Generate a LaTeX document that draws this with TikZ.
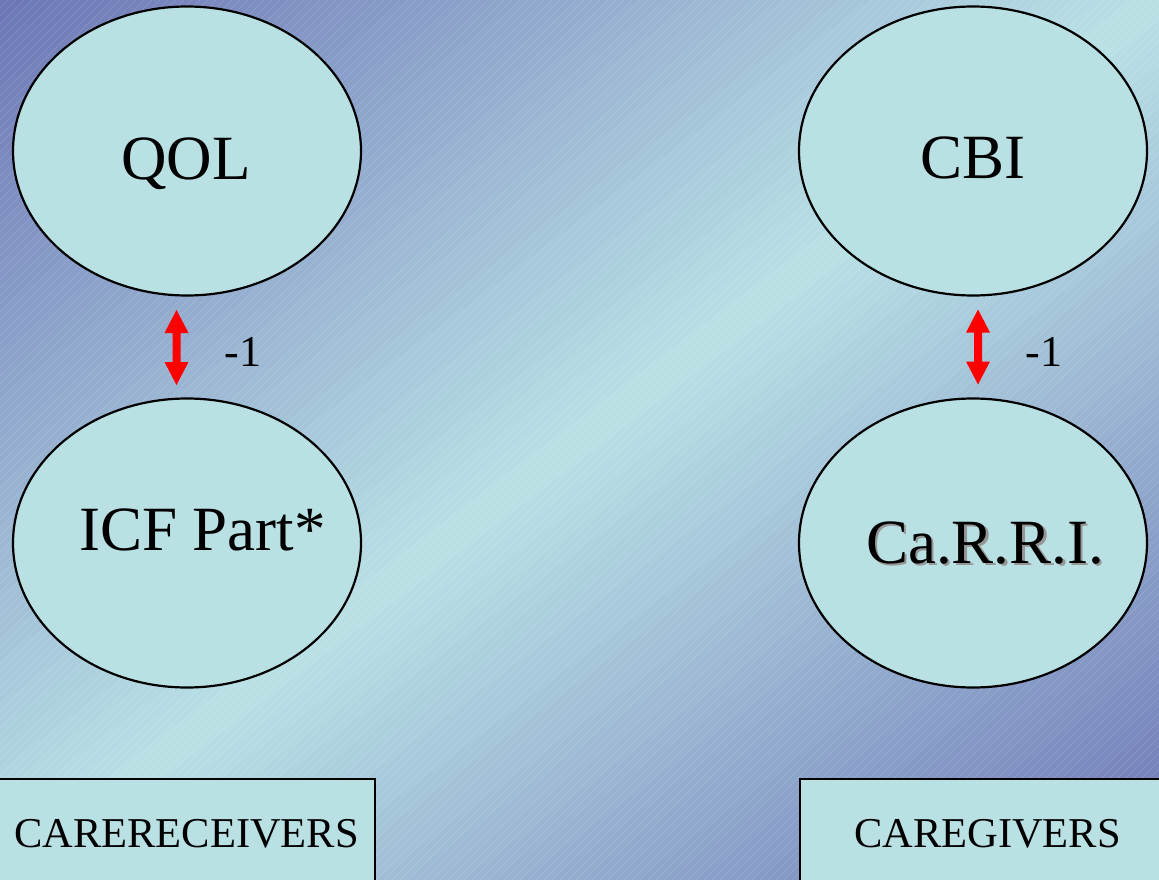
\documentclass[tikz,border=0pt]{standalone}
\usepackage{fontspec}
\setmainfont{Liberation Serif}
\usetikzlibrary{shapes.geometric}
\definecolor{bluebg}{RGB}{108,118,182}
\definecolor{cyanbg}{RGB}{186,225,230}
\definecolor{fillc}{RGB}{185,224,227}
\definecolor{shadowc}{RGB}{150,150,150}
\tikzset{
  oval/.style={ellipse, draw=black, line width=2.2pt, fill=fillc, minimum width=348pt, minimum height=289pt, inner sep=0pt},
  bigtxt/.style={anchor=base, inner sep=0pt, font=\fontsize{63}{63}\selectfont},
  numtxt/.style={anchor=base, inner sep=0pt, font=\fontsize{44}{44}\selectfont},
  boxtxt/.style={anchor=base, inner sep=0pt, font=\fontsize{42.5}{42.5}\selectfont},
  grpbox/.style={draw=black, line width=1.8pt, fill=fillc},
  biarrow/.style={fill=red, draw=none},
}
\newcommand{\fatbiarrow}[1]{%
  \fill[biarrow] ([yshift=37.5pt]#1) -- ++(12,23) -- ++(-8,0) -- ++(0,29) -- ++(8,0)
    -- ++(-12,23) -- ++(-12,-23) -- ++(8,0) -- ++(0,-29) -- ++(-8,0) -- cycle;}
\begin{document}
\begin{tikzpicture}[x=1pt,y=-1pt]
\useasboundingbox (0,0) rectangle (1159,880);
\begin{scope}
\clip (0,0) rectangle (1159,880);
% background gradient
\foreach \i in {0,...,79}{
  \pgfmathsetmacro{\ta}{\i/40}
  \pgfmathsetmacro{\tb}{(\i+1)/40+0.008}
  \pgfmathsetmacro{\p}{100*(1-abs((\i+0.5)/40-1))}
  \fill[cyanbg!\p!bluebg] (\ta*1159,0) -- (\tb*1159,0) -- (0,\tb*880) -- (0,\ta*880) -- cycle;
}
% hatch texture
\foreach \k in {0,8,...,2048}{
  \draw[white,opacity=0.15,line width=0.5pt] (\k,0) -- (\k-880,880);
}
% ellipses
\node[oval] (qol) at (187,151) {};
\node[oval] (icf) at (187,543) {};
\node[oval] (cbi) at (973,151) {};
\node[oval] (carri) at (973,543) {};
\node[bigtxt] (tqol) at (186,179) {QOL};
\node[bigtxt] (ticf) at (202.5,550) {ICF Part*};
\node[bigtxt] (tcbi) at (973,178) {CBI};
\node[bigtxt, text=shadowc] (tcarris) at (987.5,565.5) {Ca.R.R.I.};
\node[bigtxt] (tcarri) at (985,563) {Ca.R.R.I.};
% arrows
\coordinate (arrL) at (176.5,347.5);
\coordinate (arrR) at (978,347);
\fatbiarrow{arrL}
\fatbiarrow{arrR}
\node[numtxt] (nL) at (243,366) {-1};
\node[numtxt] (nR) at (1044,366) {-1};
% group boxes
\node[grpbox, anchor=north east, minimum width=400pt, minimum height=140pt] (boxL) at (376,778) {};
\node[grpbox, anchor=north west, minimum width=400pt, minimum height=140pt] (boxR) at (799,778) {};
\node[boxtxt] (tboxL) at (186.5,847) {CARERECEIVERS};
\node[boxtxt] (tboxR) at (987.5,847) {CAREGIVERS};
\end{scope}
\end{tikzpicture}
\end{document}
